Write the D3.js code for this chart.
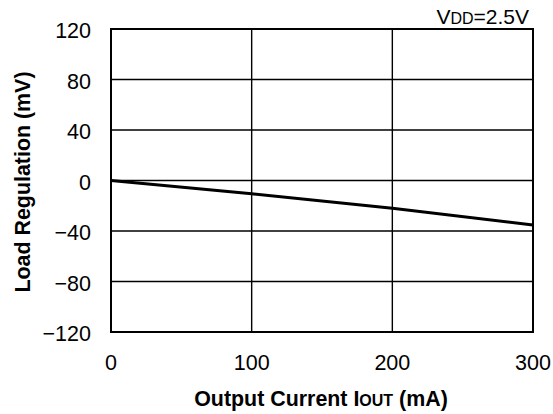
<!DOCTYPE html>
<meta charset="UTF-8">
<script src="https://d3js.org/d3.v7.min.js"></script>
<style>
  body { margin: 0; background: #fff; }
  text { font-family: "Liberation Sans", Arial, Helvetica, sans-serif; fill: #000; }
</style>
<svg id="chart" width="553" height="414"></svg>
<script>
// data
var current = [0, 100, 200, 300];          // mA
var regulation = [0, -10.5, -22, -35.2];   // mV
var xTicks = [0, 100, 200, 300];
var yTicks = [-120, -80, -40, 0, 40, 80, 120];

var svg = d3.select("#chart");
var pLeft = 111, pRight = 533, pTop = 29, pBottom = 332;

var x = d3.scaleLinear().domain([0, 300]).range([pLeft, pRight]);
var y = d3.scaleLinear().domain([-120, 120]).range([pBottom, pTop]);

// grid
var grid = svg.append("g").attr("stroke", "#000").attr("stroke-width", 1.4);
grid.selectAll("line.v").data(xTicks.slice(1, -1)).enter().append("line")
  .attr("x1", d => x(d)).attr("x2", d => x(d))
  .attr("y1", pTop).attr("y2", pBottom);
grid.selectAll("line.h").data(yTicks.slice(1, -1)).enter().append("line")
  .attr("y1", d => y(d)).attr("y2", d => y(d))
  .attr("x1", pLeft).attr("x2", pRight);

svg.append("rect")
  .attr("x", pLeft).attr("y", pTop)
  .attr("width", pRight - pLeft).attr("height", pBottom - pTop)
  .attr("fill", "none").attr("stroke", "#000").attr("stroke-width", 2);

// tick labels
svg.selectAll("text.xt").data(xTicks).enter().append("text")
  .attr("x", d => x(d)).attr("y", 369.5)
  .attr("text-anchor", "middle").style("font-size", "21.5px")
  .text(d => d);
svg.selectAll("text.yt").data(yTicks).enter().append("text")
  .attr("x", 91).attr("y", d => y(d) + 9)
  .attr("text-anchor", "end").style("font-size", "21.5px")
  .text(d => d < 0 ? "\u2212" + Math.abs(d) : d);

// curve
var line = d3.line().x(d => x(d[0])).y(d => y(d[1]));
svg.append("path")
  .datum(d3.zip(current, regulation))
  .attr("d", line)
  .attr("fill", "none").attr("stroke", "#000").attr("stroke-width", 3);

// axis titles
var xt = svg.append("text")
  .attr("x", 321).attr("y", 406)
  .attr("text-anchor", "middle")
  .style("font-size", "21.4px").style("font-weight", "bold");
xt.append("tspan").text("Output Current I");
xt.append("tspan").style("font-size", "16px").text("OUT");
xt.append("tspan").text(" (mA)");

svg.append("text")
  .attr("transform", "translate(30,182) rotate(-90)")
  .attr("text-anchor", "middle")
  .style("font-size", "21.4px").style("font-weight", "bold")
  .text("Load Regulation (mV)");

var vt = svg.append("text")
  .attr("x", 529).attr("y", 24)
  .attr("text-anchor", "end")
  .style("font-size", "21px");
vt.append("tspan").text("V");
vt.append("tspan").style("font-size", "16px").text("DD");
vt.append("tspan").text("=2.5V");
</script>
